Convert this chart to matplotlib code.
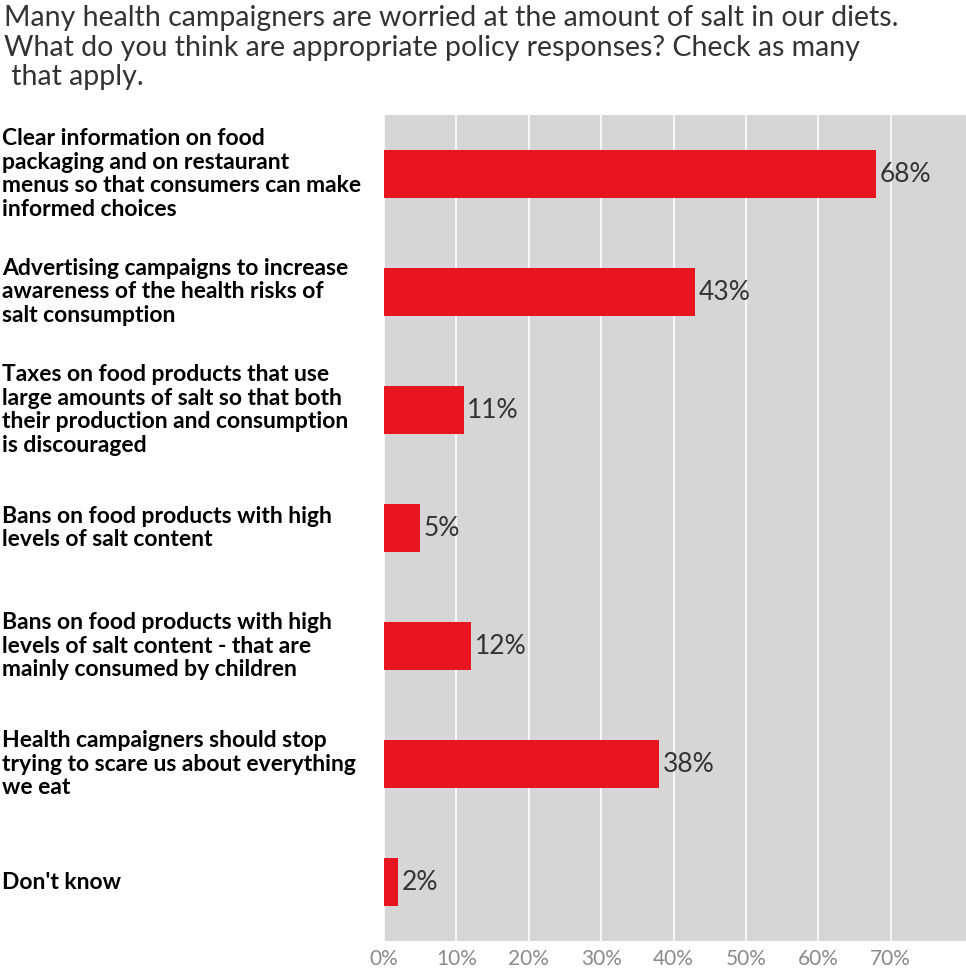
import matplotlib
matplotlib.use("Agg")
import matplotlib.pyplot as plt
from matplotlib.ticker import FuncFormatter

title = ("Many health campaigners are worried at the amount of salt in our diets.\n"
         "What do you think are appropriate policy responses? Check as many\n"
         " that apply.")

categories = [
    "Clear information on food\npackaging and on restaurant\nmenus so that consumers can make\ninformed choices",
    "Advertising campaigns to increase\nawareness of the health risks of\nsalt consumption",
    "Taxes on food products that use\nlarge amounts of salt so that both\ntheir production and consumption\nis discouraged",
    "Bans on food products with high\nlevels of salt content",
    "Bans on food products with high\nlevels of salt content - that are\nmainly consumed by children",
    "Health campaigners should stop\ntrying to scare us about everything\nwe eat",
    "Don't know",
]
values = [68, 43, 11, 5, 12, 38, 2]
value_labels = ["68%", "43%", "11%", "5%", "12%", "38%", "2%"]
ticks = [0, 10, 20, 30, 40, 50, 60, 70]

FONT = "Lato"
fig = plt.figure(figsize=(9.66, 9.76), dpi=100)
ax = fig.add_axes([384/966, 1-941/976, 1-384/966, (941-115)/976])
ax.set_facecolor("#d6d6d6")
ypos = list(range(len(categories)))
ax.barh(ypos, values, height=0.41, color="#e8141f", zorder=3)
ax.set_xlim(0, 80.4)
ax.set_ylim(len(categories)-0.5, -0.5)
ax.set_xticks(ticks)
ax.xaxis.set_major_formatter(FuncFormatter(lambda v, p: f"{int(round(v))}%"))
ax.grid(axis="x", color="white", linewidth=1.2, zorder=1)
ax.set_axisbelow(True)
for s in ax.spines.values():
    s.set_visible(False)
ax.tick_params(axis="x", length=0, pad=6, labelsize=15, labelcolor="#8a8a8a")
for lab in ax.get_xticklabels():
    lab.set_fontfamily(FONT)
    lab.set_fontweight("normal")
ax.set_yticks([])

for y, v, t in zip(ypos, values, value_labels):
    ax.text(v + 0.5, y, t, va="center", ha="left", fontsize=19, color="#333333",
            fontfamily=FONT, fontweight="normal", zorder=4)

for y, c in zip(ypos, categories):
    yd = ax.transData.transform((0, y))[1]
    yf = fig.transFigure.inverted().transform((0, yd))[1]
    fig.text(2/966, yf, c, ha="left", va="center", fontsize=16.5, fontweight="bold",
             fontfamily=FONT, color="black", linespacing=1.17)

fig.text(4/966, 1-5/976, title, ha="left", va="top", fontsize=20.5, color="#333333",
         fontfamily=FONT, fontweight="normal", linespacing=1.17)

fig.savefig("out.png", dpi=100)
